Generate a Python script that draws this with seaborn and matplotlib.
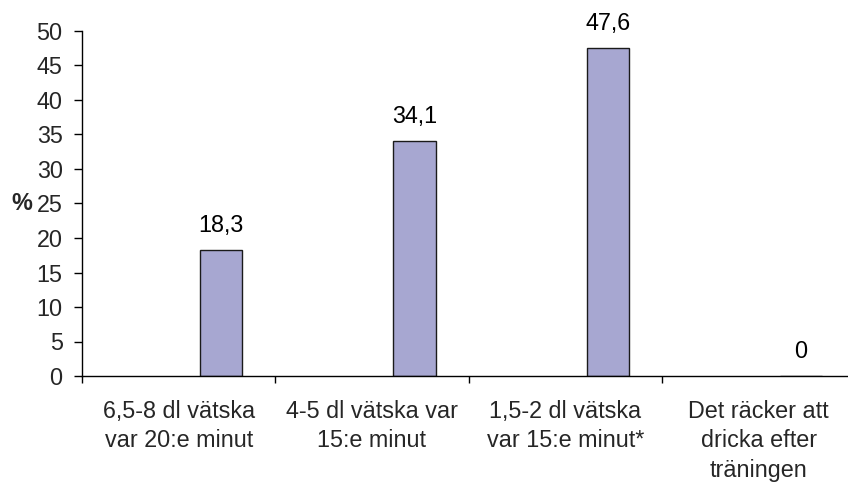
import matplotlib
matplotlib.use("Agg")
import matplotlib.pyplot as plt
import numpy as np
import pandas as pd
import seaborn as sns

# Answer options (x categories) and share of respondents in percent
categories = [
    "6,5-8 dl vätska\nvar 20:e minut",
    "4-5 dl vätska var\n15:e minut",
    "1,5-2 dl vätska\nvar 15:e minut*",
    "Det räcker att\ndricka efter\nträningen",
]
percent = [18.3, 34.1, 47.6, 0.0]
y_ticks = [0, 5, 10, 15, 20, 25, 30, 35, 40, 45, 50]

# The chart keeps three series slots per category; only the last one holds data
series_order = ["Serie 1", "Serie 2", "Andel"]
bar_color = "#a7a7d1"
font_size = 16.8

sns.set_style("white")
plt.rcParams["font.family"] = ["Liberation Sans", "DejaVu Sans"]
plt.rcParams["text.color"] = "black"

df = pd.DataFrame({
    "svar": categories,
    "procent": percent,
    "serie": series_order[-1],
})

W, H = 848, 483
fig = plt.figure(figsize=(W / 100, H / 100), dpi=100)
ax = fig.add_axes([82 / W, 107 / H, 773.3 / W, 345 / H])

sns.barplot(
    data=df, x="svar", y="procent", hue="serie",
    order=categories, hue_order=series_order,
    palette={s: bar_color for s in series_order},
    saturation=1, width=0.66, dodge=True,
    edgecolor="#1a1a1a", linewidth=1.0,
    errorbar=None, legend=False, ax=ax,
)

def fmt_value(v):
    return "0" if v == 0 else f"{v:.1f}".replace(".", ",")

for cont in ax.containers:
    ax.bar_label(cont, labels=[fmt_value(v) for v in cont.datavalues],
                 padding=9, fontsize=font_size, color="black")

ax.set_ylim(y_ticks[0], y_ticks[-1])
ax.set_yticks(y_ticks)
ax.set_yticklabels([str(t) for t in y_ticks], fontsize=font_size)

n = len(categories)
ax.set_xlim(-0.5, n - 0.5)
ax.set_xticks(np.arange(n + 1) - 0.5, labels=[""] * (n + 1))
ax.set_xticks(np.arange(n), labels=categories, minor=True)
for lab in ax.get_xticklabels(minor=True):
    lab.set_fontsize(font_size)
    lab.set_linespacing(1.38)
    lab.set_ha("center")

ax.tick_params(axis="x", which="major", bottom=True, length=5, width=1,
               color="black", direction="out")
ax.tick_params(axis="x", which="minor", bottom=True, length=0, pad=17.0)
ax.tick_params(axis="y", which="major", left=True, length=5.5, width=1,
               color="black", direction="out", pad=8.4)

for side in ("top", "right"):
    ax.spines[side].set_visible(False)
for side in ("left", "bottom"):
    ax.spines[side].set_color("black")
    ax.spines[side].set_linewidth(1)

ax.set_xlabel("")
ax.set_ylabel("%", rotation=0, fontweight="bold", fontsize=font_size,
              va="center", ha="center")
ax.yaxis.set_label_coords(-60 / 773.3, 0.5)

fig.savefig("out.png", dpi=100)
